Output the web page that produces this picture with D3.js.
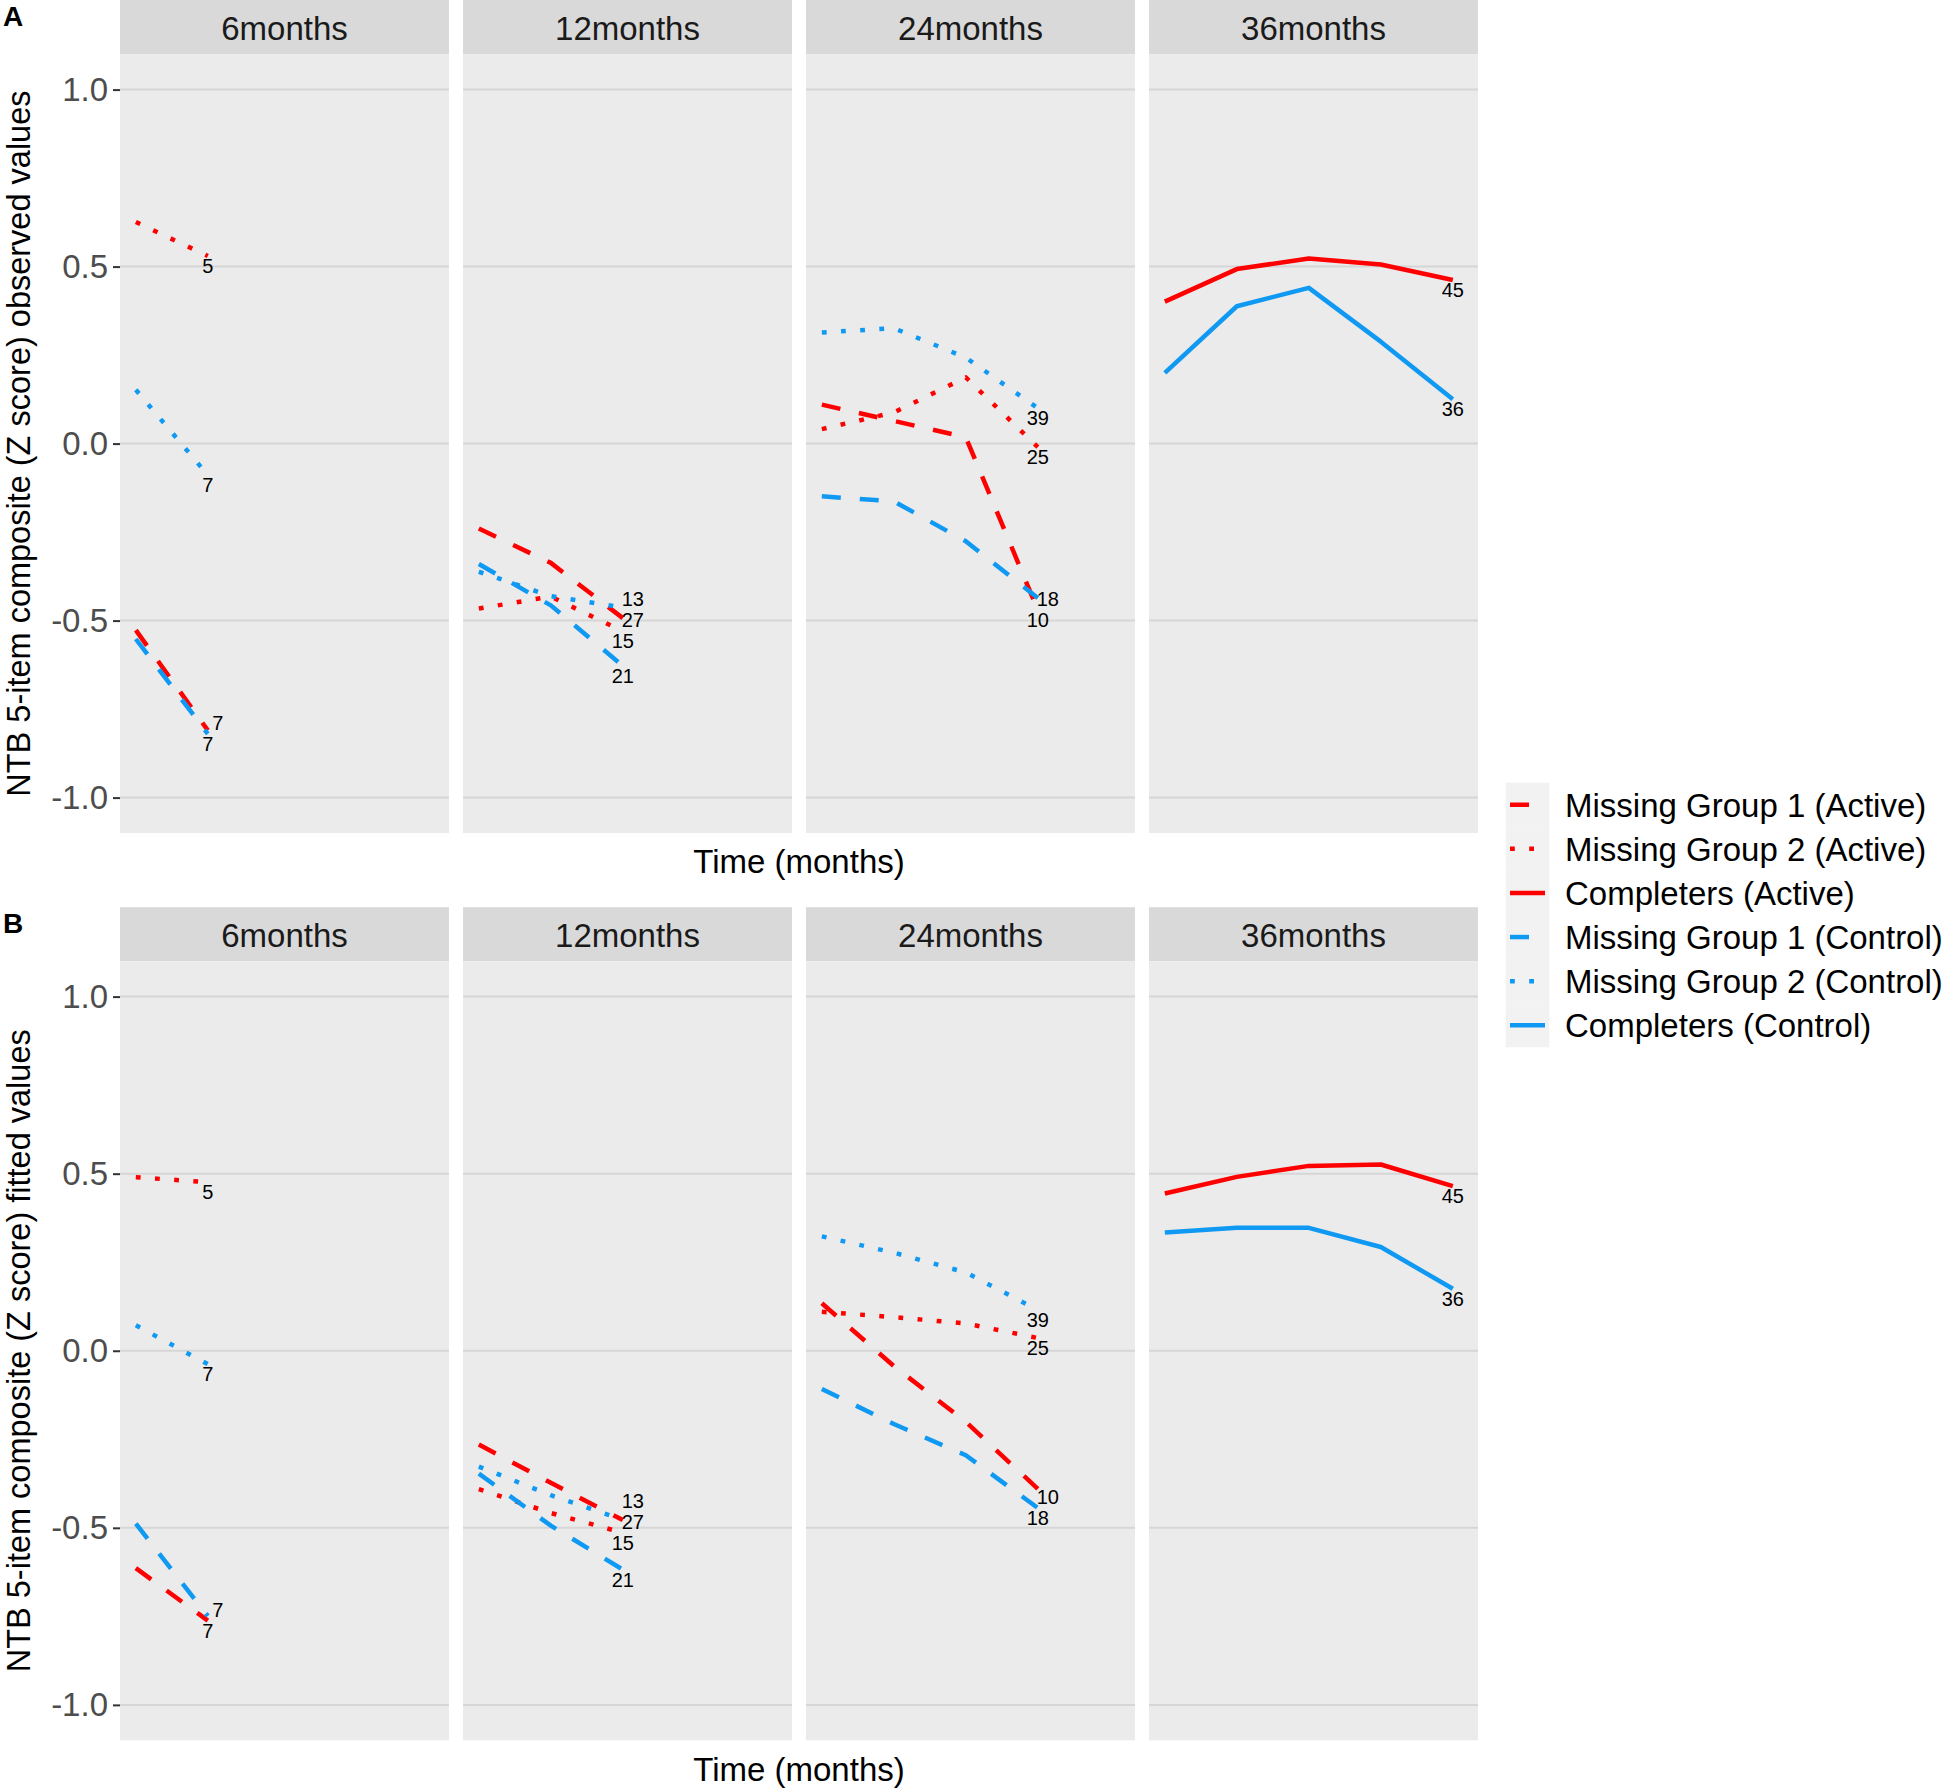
<!DOCTYPE html>
<html><head><meta charset="utf-8">
<script src="https://cdn.jsdelivr.net/npm/d3@7"></script>
<style>body{margin:0;background:#fff} svg{display:block}</style>
</head><body>
<svg id="chart" width="1944" height="1789"></svg>
<script>
// ---------------- DATA ----------------
const panelNames = ["6months", "12months", "24months", "36months"];
const visits6 = [1, 2];
const visits12 = [1, 2, 3];
const visits24 = [1, 2, 3, 4];
const visits36 = [1, 2, 3, 4, 5];

const groupNames = [
  "Missing Group 1 (Active)", "Missing Group 2 (Active)", "Completers (Active)",
  "Missing Group 1 (Control)", "Missing Group 2 (Control)", "Completers (Control)"
];

// sample sizes shown at line ends (6, 12, 24 months panels)
const nMG1Active = [7, 27, 10];
const nMG2Active = [5, 15, 25];
const nMG1Control = [7, 21, 18];
const nMG2Control = [7, 13, 39];
const nCompActive = 45;
const nCompControl = 36;

// Panel A: observed values
const obsMG1Active6 = [-0.527, -0.81];
const obsMG2Active6 = [0.626, 0.53];
const obsMG1Control6 = [-0.552, -0.82];
const obsMG2Control6 = [0.152, -0.089];
const obsMG1Active12 = [-0.24, -0.337, -0.493];
const obsMG2Active12 = [-0.466, -0.432, -0.53];
const obsMG1Control12 = [-0.34, -0.457, -0.628];
const obsMG2Control12 = [-0.362, -0.431, -0.463];
const obsMG1Active24 = [0.11, 0.064, 0.018, -0.47];
const obsMG2Active24 = [0.041, 0.088, 0.187, -0.01];
const obsMG1Control24 = [-0.149, -0.163, -0.276, -0.436];
const obsMG2Control24 = [0.314, 0.326, 0.243, 0.10];
const obsCompActive36 = [0.401, 0.493, 0.523, 0.506, 0.462];
const obsCompControl36 = [0.20, 0.388, 0.44, 0.288, 0.125];

// Panel B: fitted values
const fitMG1Active6 = [-0.614, -0.762];
const fitMG2Active6 = [0.49, 0.476];
const fitMG1Control6 = [-0.488, -0.749];
const fitMG2Control6 = [0.072, -0.038];
const fitMG1Active12 = [-0.265, -0.373, -0.478];
const fitMG2Active12 = [-0.391, -0.458, -0.514];
const fitMG1Control12 = [-0.347, -0.494, -0.618];
const fitMG2Control12 = [-0.327, -0.408, -0.477];
const fitMG1Active24 = [0.134, -0.043, -0.201, -0.39];
const fitMG2Active24 = [0.110, 0.095, 0.077, 0.036];
const fitMG1Control24 = [-0.108, -0.207, -0.295, -0.444];
const fitMG2Control24 = [0.323, 0.277, 0.221, 0.115];
const fitCompActive36 = [0.444, 0.491, 0.522, 0.526, 0.465];
const fitCompControl36 = [0.334, 0.347, 0.347, 0.293, 0.175];

const yTicks = [-1.0, -0.5, 0.0, 0.5, 1.0];
const yTitles = ["NTB 5-item composite (Z score) observed values",
                 "NTB 5-item composite (Z score) fitted values"];
const rowTags = ["A", "B"];
const xTitle = "Time (months)";

// ---------------- STYLE / LAYOUT ----------------
const FONT = "'Liberation Sans', Arial, Helvetica, sans-serif";
const RED = "#FF0000", BLUE = "#1099F2";
const groupColor = [RED, RED, RED, BLUE, BLUE, BLUE];
const groupDash = ["19,19", "4.8,14.4", null, "19,19", "4.8,14.4", null];
const LW = 4.5;

const svg = d3.select("#chart");
svg.append("rect").attr("width", 1944).attr("height", 1789).attr("fill", "#fff");

const panelW = 329, panelGap = 14, firstLeft = 120;
const rows = [
  {stripTop: 0, top: 54.2, bottom: 833, xTitleY: 873, tagY: 26},
  {stripTop: 907.2, top: 961.2, bottom: 1740.3, xTitleY: 1781, tagY: 933}
];

const x = d3.scaleLinear().domain([0.78, 5.35]).range([0, panelW]);

// build series table
function buildRow(p) {
  const S = [];
  const V = [visits6, visits12, visits24];
  const keys = ["6", "12", "24"];
  keys.forEach((k, i) => {
    S.push({panel: i, group: 0, xs: V[i], ys: p["MG1Active" + k], n: nMG1Active[i]});
    S.push({panel: i, group: 1, xs: V[i], ys: p["MG2Active" + k], n: nMG2Active[i]});
    S.push({panel: i, group: 3, xs: V[i], ys: p["MG1Control" + k], n: nMG1Control[i]});
    S.push({panel: i, group: 4, xs: V[i], ys: p["MG2Control" + k], n: nMG2Control[i]});
  });
  S.push({panel: 3, group: 2, xs: visits36, ys: p.CompActive36, n: nCompActive});
  S.push({panel: 3, group: 5, xs: visits36, ys: p.CompControl36, n: nCompControl});
  return S;
}
const obsSeries = buildRow({
  MG1Active6: obsMG1Active6, MG2Active6: obsMG2Active6, MG1Control6: obsMG1Control6, MG2Control6: obsMG2Control6,
  MG1Active12: obsMG1Active12, MG2Active12: obsMG2Active12, MG1Control12: obsMG1Control12, MG2Control12: obsMG2Control12,
  MG1Active24: obsMG1Active24, MG2Active24: obsMG2Active24, MG1Control24: obsMG1Control24, MG2Control24: obsMG2Control24,
  CompActive36: obsCompActive36, CompControl36: obsCompControl36
});
const fitSeries = buildRow({
  MG1Active6: fitMG1Active6, MG2Active6: fitMG2Active6, MG1Control6: fitMG1Control6, MG2Control6: fitMG2Control6,
  MG1Active12: fitMG1Active12, MG2Active12: fitMG2Active12, MG1Control12: fitMG1Control12, MG2Control12: fitMG2Control12,
  MG1Active24: fitMG1Active24, MG2Active24: fitMG2Active24, MG1Control24: fitMG1Control24, MG2Control24: fitMG2Control24,
  CompActive36: fitCompActive36, CompControl36: fitCompControl36
});

const fmt = d => d.toFixed(1);

[obsSeries, fitSeries].forEach((series, r) => {
  const R = rows[r];
  const y = d3.scaleLinear().domain([-1.1, 1.1]).range([R.bottom, R.top]);
  const g = svg.append("g");

  // row tag
  g.append("text").attr("x", 3).attr("y", R.tagY).text(rowTags[r])
    .attr("font-family", FONT).attr("font-weight", "bold").attr("font-size", 28).attr("fill", "#000");

  panelNames.forEach((pn, pi) => {
    const left = firstLeft + pi * (panelW + panelGap);
    const pg = g.append("g").attr("transform", `translate(${left},0)`);
    // strip
    pg.append("rect").attr("x", 0).attr("y", R.stripTop).attr("width", panelW)
      .attr("height", R.top - R.stripTop).attr("fill", "#D9D9D9");
    pg.append("text").attr("x", panelW / 2).attr("y", (R.stripTop + R.top) / 2 + 13)
      .attr("text-anchor", "middle").attr("font-family", FONT).attr("font-size", 33)
      .attr("fill", "#1A1A1A").text(pn);
    // panel background
    pg.append("rect").attr("x", 0).attr("y", R.top).attr("width", panelW)
      .attr("height", R.bottom - R.top).attr("fill", "#EBEBEB");
    // gridlines
    pg.selectAll("line.grid").data(yTicks).join("line").attr("class", "grid")
      .attr("x1", 0).attr("x2", panelW).attr("y1", d => y(d)).attr("y2", d => y(d))
      .attr("stroke", "#D6D6D6").attr("stroke-width", 2);

    // lines
    const line = d3.line().x(d => x(d[0])).y(d => y(d[1]));
    const ps = series.filter(s => s.panel === pi);
    ps.forEach(s => {
      const pts = s.xs.map((xv, i) => [xv, s.ys[i]]);
      pg.append("path").attr("d", line(pts)).attr("fill", "none")
        .attr("stroke", groupColor[s.group]).attr("stroke-width", LW)
        .attr("stroke-dasharray", groupDash[s.group]).attr("stroke-linejoin", "round");
    });

    // end labels with a simple vertical repel (bottom label keeps its spot)
    const labs = ps.map(s => {
      const last = s.xs.length - 1;
      const ex = x(s.xs[last]), ey = y(s.ys[last]);
      return {n: s.n, x: ex, y: ey + 10, y0: ey + 10};
    }).sort((a, b) => b.y0 - a.y0);
    const GAP = 21;
    for (let i = 1; i < labs.length; i++) {
      const prev = labs[i - 1];
      if (prev.y - labs[i].y < GAP) {
        labs[i].y = prev.y - GAP;
        labs[i].x += 10;
      }
    }
    pg.selectAll("text.lab").data(labs).join("text").attr("class", "lab")
      .attr("x", d => d.x).attr("y", d => d.y + 7).attr("text-anchor", "middle")
      .attr("font-family", FONT).attr("font-size", 20).attr("fill", "#000").text(d => d.n);
  });

  // y axis (left of first panel)
  const ax = g.append("g").attr("transform", `translate(${firstLeft},0)`)
    .call(d3.axisLeft(y).tickValues(yTicks).tickFormat(fmt).tickSize(7).tickPadding(5));
  ax.select(".domain").remove();
  ax.selectAll(".tick line").attr("stroke", "#333333").attr("stroke-width", 2);
  ax.selectAll(".tick text").attr("font-family", FONT).attr("font-size", 33).attr("fill", "#4D4D4D");

  // y title
  const cy = (R.top + R.bottom) / 2;
  g.append("text").attr("transform", `translate(30,${cy}) rotate(-90)`)
    .attr("text-anchor", "middle").attr("font-family", FONT).attr("font-size", 32.5)
    .attr("fill", "#000").text(yTitles[r]);

  // x title
  const totalW = 4 * panelW + 3 * panelGap;
  g.append("text").attr("x", firstLeft + totalW / 2).attr("y", R.xTitleY)
    .attr("text-anchor", "middle").attr("font-family", FONT).attr("font-size", 33)
    .attr("fill", "#000").text(xTitle);
});

// ---------------- LEGEND ----------------
const lg = svg.append("g");
const legTop = 782.7, rowH = 44.1, keyX0 = 1505.7, keyW = 43.6;
groupNames.forEach((name, i) => {
  const cy = legTop + rowH * i + rowH / 2;
  lg.append("rect").attr("x", keyX0).attr("y", legTop + rowH * i).attr("width", keyW)
    .attr("height", rowH).attr("fill", "#F2F2F2");
  lg.append("line").attr("x1", 1510).attr("x2", 1545).attr("y1", cy).attr("y2", cy)
    .attr("stroke", groupColor[i]).attr("stroke-width", LW).attr("stroke-dasharray", groupDash[i]);
  lg.append("text").attr("x", 1565).attr("y", cy + 12).attr("font-family", FONT)
    .attr("font-size", 33).attr("fill", "#000").text(name);
});
</script>
</body></html>
